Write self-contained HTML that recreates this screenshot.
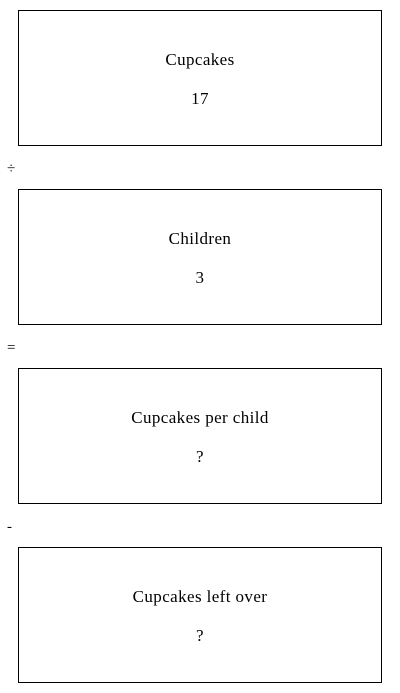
<!DOCTYPE html>
<html><head><style>
body{margin:0;width:400px;height:693px;background:#fff;font-family:"Liberation Serif",serif;position:relative;color:#000}
.b{position:absolute;left:18px;width:362px;height:134px;border:1px solid #000;text-align:center;font-size:17px;letter-spacing:0.4px}
.l{position:absolute;left:0;right:0;top:39px}
.v{position:absolute;left:0;right:0;top:78px}
.o{position:absolute;left:7px;font-size:15px}
</style></head><body>
<div class="b" style="top:10px"><div class="l">Cupcakes</div><div class="v">17</div></div>
<div class="o" style="top:161px">÷</div>
<div class="b" style="top:189px"><div class="l">Children</div><div class="v">3</div></div>
<div class="o" style="top:340px">=</div>
<div class="b" style="top:368px"><div class="l">Cupcakes per child</div><div class="v">?</div></div>
<div class="o" style="top:519px">-</div>
<div class="b" style="top:547px"><div class="l">Cupcakes left over</div><div class="v">?</div></div>
</body></html>
